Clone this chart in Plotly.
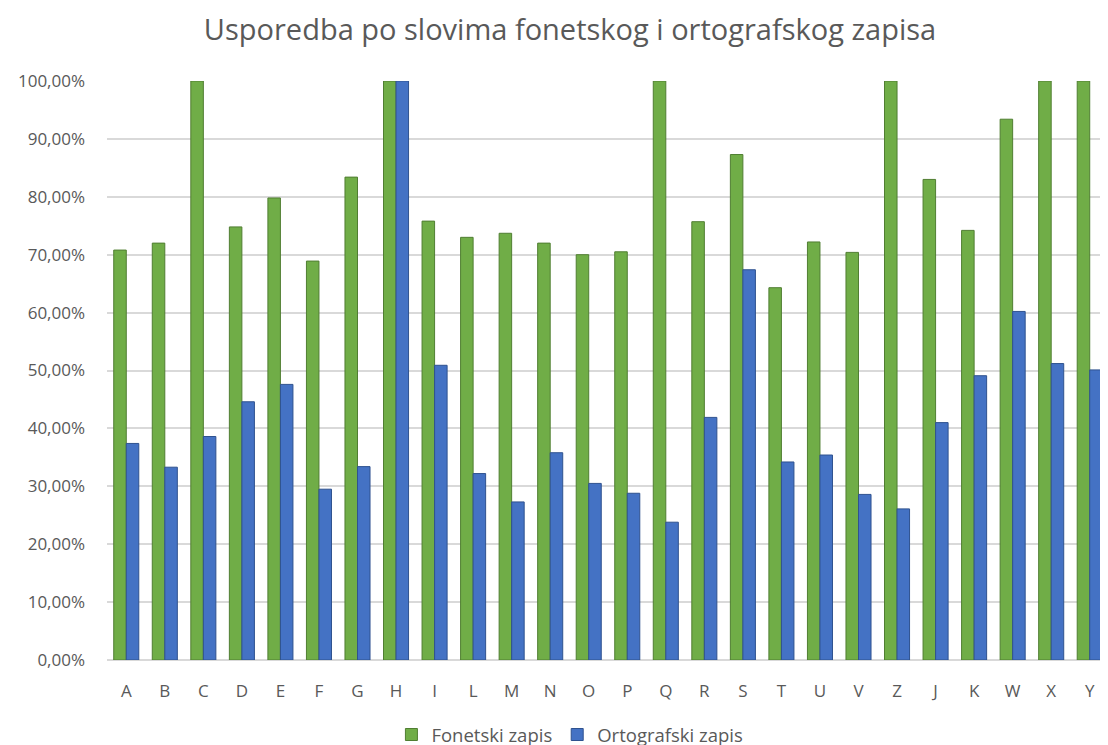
import plotly.graph_objects as go

categories = ["A", "B", "C", "D", "E", "F", "G", "H", "I", "L", "M", "N", "O",
              "P", "Q", "R", "S", "T", "U", "V", "Z", "J", "K", "W", "X", "Y"]
fonetski = [70.8, 72.0, 100.0, 74.8, 79.8, 68.9, 83.4, 100.0, 75.8, 73.0, 73.7, 72.0, 70.0,
            70.5, 100.0, 75.7, 87.3, 64.3, 72.2, 70.4, 100.0, 83.0, 74.2, 93.4, 100.0, 100.0]
ortografski = [37.4, 33.3, 38.6, 44.6, 47.6, 29.5, 33.4, 100.0, 50.9, 32.2, 27.3, 35.8, 30.5,
               28.8, 23.8, 41.9, 67.4, 34.2, 35.4, 28.6, 26.1, 41.0, 49.1, 60.2, 51.2, 50.1]
series_names = ["Fonetski zapis", "Ortografski zapis"]
tick_vals = [i / 10 for i in range(11)]

grey = "#595959"
font_family = "Open Sans, Noto Sans, sans-serif"

fig = go.Figure()
fig.add_trace(go.Bar(x=categories, y=[v / 100 for v in fonetski], name=series_names[0],
                     marker=dict(color="#70AD47", line=dict(color="#507E32", width=1))))
fig.add_trace(go.Bar(x=categories, y=[v / 100 for v in ortografski], name=series_names[1],
                     marker=dict(color="#4472C4", line=dict(color="#2F528F", width=1))))

fig.update_layout(
    width=1102, height=755,
    separators=",.",
    paper_bgcolor="white", plot_bgcolor="white",
    margin=dict(l=99, r=1, t=73, b=103),
    barmode="group", bargap=0.35, bargroupgap=0.0,
    title=dict(text="Usporedba po slovima fonetskog i ortografskog zapisa",
               x=0.51, xanchor="center", y=1 - 22 / 755, yanchor="middle",
               font=dict(family=font_family, size=29, color=grey)),
    font=dict(family=font_family, size=16, color=grey),
    legend=dict(orientation="h", x=0.462, xanchor="center", y=-0.1295, yanchor="middle",
                font=dict(size=18.5, color=grey), traceorder="normal"),
    showlegend=True,
)
fig.update_yaxes(range=[0, 1.0], tickvals=tick_vals, tickformat=".2%",
                 showgrid=True, gridcolor="#D9D9D9", gridwidth=1.5,
                 zeroline=True, zerolinecolor="#D9D9D9", zerolinewidth=1.5,
                 showline=False, ticks="", ticklabelstandoff=21,
                 tickfont=dict(size=17, color=grey))
fig.update_xaxes(showgrid=False, showline=False, ticks="", ticklabelstandoff=19,
                 tickfont=dict(size=17, color=grey))

fig.write_html("out.html")
